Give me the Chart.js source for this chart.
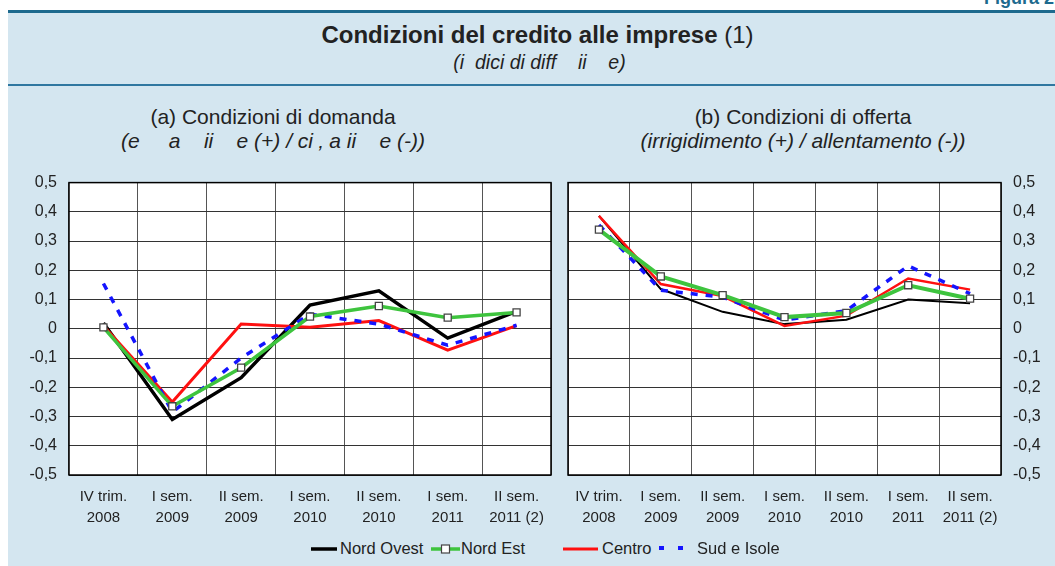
<!DOCTYPE html>
<html>
<head>
<meta charset="utf-8">
<script src="https://cdn.jsdelivr.net/npm/chart.js@4.4.1/dist/chart.umd.min.js"></script>
<style>
  body { margin: 0; background: #fff; font-family: 'Liberation Sans', Arial, sans-serif; color: #222; }
  #page { position: relative; width: 1055px; height: 566px; overflow: hidden; }
  #panel { position: absolute; left: 8px; top: 10px; right: 0; bottom: 0; background: #d4e6f0; border-top: 3px solid #1d6a8e; }
  #rule { position: absolute; left: 8px; right: 0; top: 84px; height: 2px; background: #2f77a0; }
  #fig { position: absolute; right: -4px; top: -12px; font-size: 18px; font-weight: bold; color: #1d6a8e; }
  .center { position: absolute; text-align: center; white-space: pre; }
  #title { left: 8px; right: 0; top: 21px; font-size: 24px; padding-left: 12px; }
  #subtitle { left: 8px; right: 0; top: 51px; font-size: 19.5px; font-style: italic; padding-left: 16px; }
  .sub1 { font-size: 21px; top: 105px; }
  .sub2 { font-size: 21px; font-style: italic; top: 129px; }
  canvas { position: absolute; }
  .leg { position: absolute; top: 539px; font-size: 16.5px; white-space: nowrap; }
  .leg svg { position: absolute; top: 0; }
</style>
</head>
<body>
<div id="page">
  <div id="panel"></div>
  <div id="rule"></div>
  <div id="fig">Figura 2.</div>
  <div class="center" id="title"><b>Condizioni del credito alle imprese</b> (1)</div>
  <div class="center" id="subtitle">(i  dici di diff    ii    e)</div>
  <div class="center sub1" style="left:0;width:546px">(a) Condizioni di domanda</div>
  <div class="center sub2" style="left:0;width:546px">(e     a    ii    e (+) / ci ‚ a ii    e (-))</div>
  <div class="center sub1" style="left:551px;width:504px">(b) Condizioni di offerta</div>
  <div class="center sub2" style="left:551px;width:504px">(irrigidimento (+) / allentamento (-))</div>
  <canvas id="domanda" width="560" height="369" style="left:0;top:161px"></canvas>
  <canvas id="offerta" width="496" height="369" style="left:559px;top:161px"></canvas>
  <div id="legend"></div>
</div>
<script>
// categorie (asse x)
const categories = [
  ['IV trim.', '2008'], ['I sem.', '2009'], ['II sem.', '2009'], ['I sem.', '2010'],
  ['II sem.', '2010'], ['I sem.', '2011'], ['II sem.', '2011 (2)']
];
const yTicks = [-0.5, -0.4, -0.3, -0.2, -0.1, 0, 0.1, 0.2, 0.3, 0.4, 0.5];

// (a) condizioni di domanda
const nordOvestD = [0.02, -0.31, -0.167, 0.081, 0.13, -0.032, 0.06];
const nordEstD   = [0.005, -0.265, -0.133, 0.042, 0.078, 0.038, 0.056];
const centroD    = [0.01, -0.25, 0.016, 0.005, 0.028, -0.073, 0.011];
const sudD       = [0.155, -0.285, -0.1, 0.05, 0.016, -0.056, 0.012];

// (b) condizioni di offerta
const nordOvestO = [0.386, 0.136, 0.058, 0.016, 0.031, 0.1, 0.087];
const nordEstO   = [0.339, 0.179, 0.115, 0.04, 0.054, 0.149, 0.103];
const centroO    = [0.386, 0.153, 0.112, 0.01, 0.045, 0.172, 0.134];
const sudO       = [0.355, 0.132, 0.108, 0.03, 0.062, 0.215, 0.12];

const seriesNames = ['Nord Ovest', 'Nord Est', 'Centro', 'Sud e Isole'];
const FONT = "'Liberation Sans', Arial, sans-serif";

const plotBox = {
    id: 'plotBox',
    beforeDraw(chart) {
        const a = chart.chartArea, c = chart.ctx;
        c.save();
        c.fillStyle = '#fff';
        c.fillRect(a.left, a.top, a.right - a.left, a.bottom - a.top);
        c.restore();
    },
    afterDatasetsDraw(chart) {
        const a = chart.chartArea, c = chart.ctx;
        c.save();
        c.strokeStyle = '#000';
        c.lineWidth = 1.5;
        c.strokeRect(a.left, a.top, a.right - a.left, a.bottom - a.top);
        c.restore();
    }
};

function makeDatasets(no, ne, ce, su, thin) {
    return [
        { label: seriesNames[0], data: no, borderColor: '#000', borderWidth: thin ? 2 : 3.5, pointRadius: 0, order: 3 },
        { label: seriesNames[1], data: ne, borderColor: '#3ec43e', borderWidth: thin ? 4 : 3.5,
          pointStyle: 'rect', pointRadius: 5, pointBackgroundColor: '#fff', pointBorderColor: '#444', pointBorderWidth: 1.3, order: 0 },
        { label: seriesNames[2], data: ce, borderColor: '#ff1010', borderWidth: thin ? 2.5 : 3, pointRadius: 0, order: 2 },
        { label: seriesNames[3], data: su, borderColor: '#1414ff', borderWidth: 3.5, borderDash: [7, 8], pointRadius: 0, order: 1 }
    ];
}

function makeChart(id, datasets, yPos, padding) {
    new Chart(document.getElementById(id), {
        type: 'line',
        data: { labels: categories, datasets: datasets },
        options: {
            responsive: false,
            animation: false,
            layout: { padding: padding },
            plugins: { legend: { display: false }, tooltip: { enabled: false } },
            elements: { line: { tension: 0 } },
            scales: {
                x: {
                    offset: true,
                    grid: { offset: true, color: '#555', drawTicks: false },
                    border: { display: false },
                    ticks: { autoSkip: false, maxRotation: 0, padding: 11, color: '#222',
                             font: { family: FONT, size: 15, lineHeight: 1.4 } },
                    afterFit(s) { s.height = 55; }
                },
                y: {
                    position: yPos,
                    min: yTicks[0], max: yTicks[yTicks.length - 1],
                    grid: { color: '#333', drawTicks: false },
                    border: { display: false },
                    afterBuildTicks(s) { s.ticks = yTicks.map(v => ({ value: v })); },
                    ticks: {
                        padding: 12, color: '#222', font: { family: FONT, size: 16 },
                        callback: v => v === 0 ? '0' : v.toFixed(1).replace('.', ',')
                    },
                    afterFit(s) { s.width = yPos === 'left' ? 69 : 54; }
                }
            }
        },
        plugins: [plotBox]
    });
}

makeChart('domanda', makeDatasets(nordOvestD, nordEstD, centroD, sudD, false), 'left',
          { top: 0, right: 9, left: 0, bottom: 0 });
makeChart('offerta', makeDatasets(nordOvestO, nordEstO, centroO, sudO, true), 'right',
          { top: 0, right: 0, left: 9, bottom: 0 });

// legenda
const legendItems = [
    { x: 311, w: 26, text: 340, svg: '<line x1="0" y1="10" x2="26" y2="10" stroke="#000" stroke-width="3.5"/>' },
    { x: 431, w: 29, text: 461, svg: '<line x1="0" y1="10" x2="29" y2="10" stroke="#3ec43e" stroke-width="3.5"/><rect x="10.5" y="6" width="8" height="8" fill="#fff" stroke="#444" stroke-width="1.2"/>' },
    { x: 563, w: 35, text: 602, svg: '<line x1="0" y1="10" x2="35" y2="10" stroke="#ff1010" stroke-width="3"/>' },
    { x: 659, w: 27, text: 697, svg: '<line x1="0" y1="9" x2="27" y2="9" stroke="#1414ff" stroke-width="4" stroke-dasharray="5 14"/>' }
];
const legend = document.getElementById('legend');
legendItems.forEach((it, i) => {
    const d = document.createElement('div');
    d.className = 'leg';
    d.style.left = it.x + 'px';
    d.innerHTML = '<svg width="' + it.w + '" height="20">' + it.svg + '</svg>' +
        '<span style="position:absolute;left:' + (it.text - it.x) + 'px">' + seriesNames[i] + '</span>';
    legend.appendChild(d);
});
</script>
</body>
</html>
